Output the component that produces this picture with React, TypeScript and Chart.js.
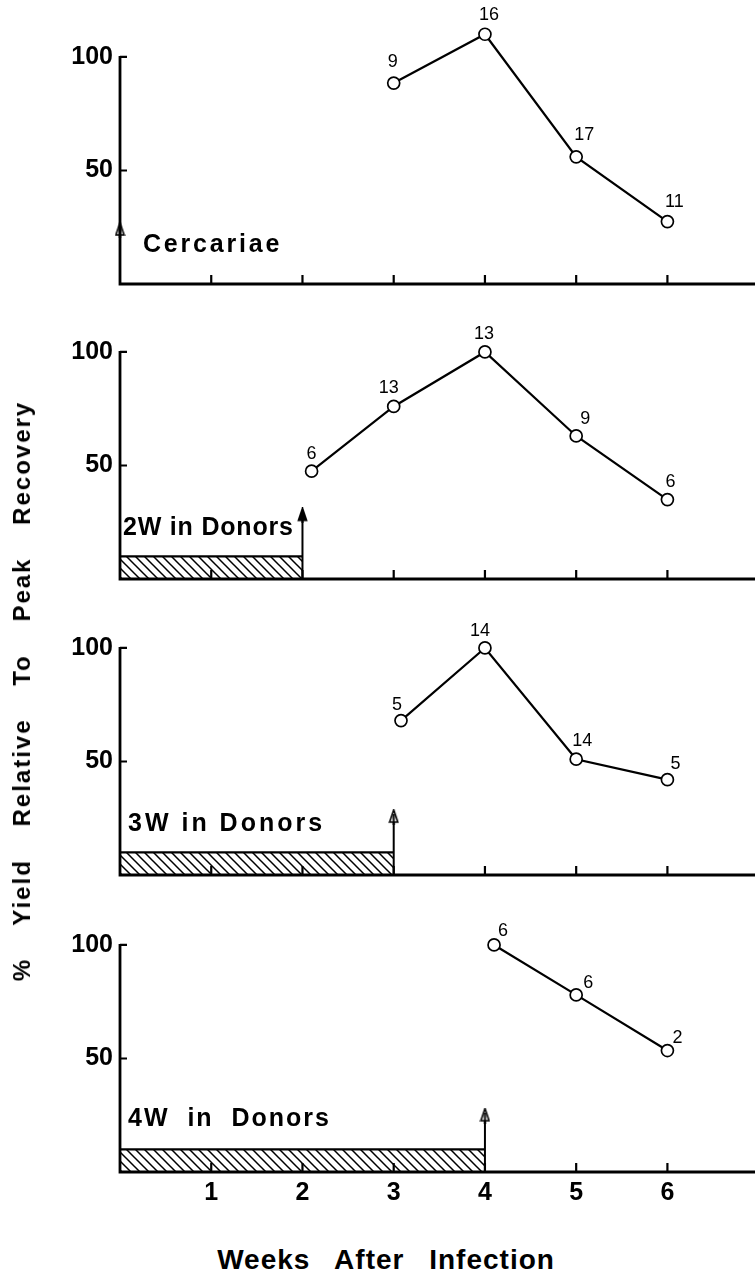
import React, { useEffect, useRef } from "react";
import { Chart, registerables } from "chart.js";

Chart.register(...registerables);

const FONT = "'Liberation Sans', Arial, Helvetica, sans-serif";

// Cercariae used directly
const cercariaeWeeks = [3, 4, 5, 6];
const cercariaeYield = [88.5, 110, 56, 27.5];
const cercariaeN = [9, 16, 17, 11];

// Worms kept 2 weeks in donors
const donors2Weeks = [2.1, 3, 4, 5, 6];
const donors2Yield = [47.5, 76, 100, 63, 35];
const donors2N = [6, 13, 13, 9, 6];

// Worms kept 3 weeks in donors
const donors3Weeks = [3.08, 4, 5, 6];
const donors3Yield = [68, 100, 51, 42];
const donors3N = [5, 14, 14, 5];

// Worms kept 4 weeks in donors
const donors4Weeks = [4.1, 5, 6];
const donors4Yield = [100, 78, 53.5];
const donors4N = [6, 6, 2];

const panelCaptions = ["Cercariae", "2W in Donors", "3W in Donors", "4W  in  Donors"];
const weeksInDonors = [0, 2, 3, 4];
const arrowTops = [23.8, 28, 25.5, 24.8];
const donorBarLevel = 10;

const yTickValues = [50, 100];
const weekTicks = [1, 2, 3, 4, 5, 6];
const weekAxisMax = 6.96;
const yAxisMax = 122;

type PanelSpec = {
  weeks: number[];
  yields: number[];
  n: number[];
  caption: string;
  donor: number;
  arrowTop: number;
  hollowHead: boolean;
  labelDx: number[];
  labelDy: number[];
  captionDx: number;
  captionY: number;
  captionSpacing: number;
};

const panels: PanelSpec[] = [
  {
    weeks: cercariaeWeeks, yields: cercariaeYield, n: cercariaeN,
    caption: panelCaptions[0], donor: weeksInDonors[0], arrowTop: arrowTops[0], hollowHead: true,
    labelDx: [-1, 4, 8, 7], labelDy: [-21, -19, -22, -20],
    captionDx: 23, captionY: 17.2, captionSpacing: 2.8,
  },
  {
    weeks: donors2Weeks, yields: donors2Yield, n: donors2N,
    caption: panelCaptions[1], donor: weeksInDonors[1], arrowTop: arrowTops[1], hollowHead: false,
    labelDx: [0, -5, -1, 9, 3], labelDy: [-17, -18, -18, -17, -18],
    captionDx: 3, captionY: 22.5, captionSpacing: 0.8,
  },
  {
    weeks: donors3Weeks, yields: donors3Yield, n: donors3N,
    caption: panelCaptions[2], donor: weeksInDonors[2], arrowTop: arrowTops[2], hollowHead: true,
    labelDx: [-4, -5, 6, 8], labelDy: [-16, -17, -18, -16],
    captionDx: 8, captionY: 22.5, captionSpacing: 3,
  },
  {
    weeks: donors4Weeks, yields: donors4Yield, n: donors4N,
    caption: panelCaptions[3], donor: weeksInDonors[3], arrowTop: arrowTops[3], hollowHead: true,
    labelDx: [9, 12, 10], labelDy: [-14, -12, -12],
    captionDx: 8, captionY: 23.3, captionSpacing: 2,
  },
];

const panelTops = [0, 295, 591, 888];

function hatchPattern(ctx: CanvasRenderingContext2D) {
  const s = 9;
  const c = document.createElement("canvas");
  c.width = s;
  c.height = s;
  const g = c.getContext("2d")!;
  g.strokeStyle = "#000";
  g.lineWidth = 1.5;
  g.beginPath();
  g.moveTo(-1, -1);
  g.lineTo(s + 1, s + 1);
  g.moveTo(s - 1, -1);
  g.lineTo(s + 1, 1);
  g.moveTo(-1, s - 1);
  g.lineTo(1, s + 1);
  g.stroke();
  return ctx.createPattern(c, "repeat");
}

function arrowHead(hollow: boolean) {
  const c = document.createElement("canvas");
  c.width = 11;
  c.height = 16;
  const g = c.getContext("2d")!;
  g.beginPath();
  g.moveTo(5.5, 0.8);
  g.lineTo(9.6, 13);
  g.lineTo(1.4, 13);
  g.closePath();
  g.fillStyle = hollow ? "#fff" : "#000";
  g.fill();
  g.strokeStyle = "#000";
  g.lineWidth = 1.6;
  g.stroke();
  g.beginPath();
  g.moveTo(5.5, hollow ? 5 : 10);
  g.lineTo(5.5, 16);
  g.lineWidth = 2;
  g.stroke();
  return c;
}

function Panel({ spec, top, last }: { spec: PanelSpec; top: number; last: boolean }) {
  const ref = useRef<HTMLCanvasElement>(null);
  const axisH = last ? 44 : 10;
  const height = 284 + axisH;

  useEffect(() => {
    const canvas = ref.current!;
    const ctx = canvas.getContext("2d")!;

    const datasets: any[] = [
      {
        data: spec.weeks.map((w, i) => ({ x: w, y: spec.yields[i] })),
        borderColor: "#000",
        borderWidth: 2.2,
        pointRadius: 6,
        pointHoverRadius: 6,
        pointBackgroundColor: "#fff",
        pointBorderColor: "#000",
        pointBorderWidth: 1.7,
        clip: false,
        order: 0,
      },
    ];
    if (spec.donor > 0) {
      datasets.push({
        data: [
          { x: 0, y: donorBarLevel },
          { x: spec.donor, y: donorBarLevel },
        ],
        fill: "origin",
        backgroundColor: hatchPattern(ctx),
        borderColor: "#000",
        borderWidth: 2.2,
        pointRadius: 0,
        clip: false,
        order: 2,
      });
    }
    datasets.push({
      data: [
        { x: spec.donor, y: 0 },
        { x: spec.donor, y: spec.arrowTop },
      ],
      borderColor: "#000",
      borderWidth: 2,
      pointRadius: [0, 8],
      pointStyle: arrowHead(spec.hollowHead),
      clip: false,
      order: 1,
    });

    const decorations = {
      id: "panelDecorations",
      afterDatasetsDraw(chart: any) {
        const c = chart.ctx as CanvasRenderingContext2D;
        const xs = chart.scales.x;
        const ys = chart.scales.y;
        const x0 = xs.getPixelForValue(0);
        const y0 = ys.getPixelForValue(0);
        const y100 = ys.getPixelForValue(100);
        c.save();
        c.strokeStyle = "#000";
        c.lineCap = "butt";
        // axes
        c.lineWidth = 2.8;
        c.beginPath();
        c.moveTo(x0, y0 + 1.4);
        c.lineTo(x0, y100 - 1);
        c.moveTo(x0 - 1.4, y0);
        c.lineTo(chart.chartArea.right, y0);
        c.stroke();
        // inward tick marks
        c.lineWidth = 2.2;
        c.beginPath();
        yTickValues.forEach((v) => {
          const y = ys.getPixelForValue(v);
          c.moveTo(x0, y);
          c.lineTo(x0 + 7, y);
        });
        weekTicks.forEach((w) => {
          const x = xs.getPixelForValue(w);
          c.moveTo(x, y0);
          c.lineTo(x, y0 - 9);
        });
        c.stroke();

        // sample sizes above each point
        const meta = chart.getDatasetMeta(0);
        c.fillStyle = "#000";
        c.font = `18px ${FONT}`;
        c.textAlign = "center";
        c.textBaseline = "middle";
        meta.data.forEach((pt: any, i: number) => {
          c.fillText(String(spec.n[i]), pt.x + spec.labelDx[i], pt.y + spec.labelDy[i]);
        });

        // panel caption
        c.font = `bold 25px ${FONT}`;
        (c as any).letterSpacing = `${spec.captionSpacing}px`;
        c.textAlign = "left";
        c.fillText(spec.caption, x0 + spec.captionDx, ys.getPixelForValue(spec.captionY));
        c.restore();
      },
    };

    const chart = new Chart(canvas, {
      type: "line",
      data: { datasets },
      options: {
        responsive: false,
        maintainAspectRatio: false,
        animation: false,
        events: [],
        layout: { autoPadding: false, padding: { top: 7, left: 0, right: 0, bottom: 0 } },
        plugins: { legend: { display: false }, tooltip: { enabled: false } },
        scales: {
          x: {
            type: "linear",
            min: 0,
            max: weekAxisMax,
            grid: { display: false, drawTicks: false },
            border: { display: false },
            ticks: {
              display: last,
              autoSkip: false,
              maxRotation: 0,
              padding: 6,
              color: "#000",
              font: { family: FONT, size: 25, weight: "bold" },
              callback: (v: any) => String(v),
            },
            afterBuildTicks: (s: any) => {
              s.ticks = weekTicks.map((v) => ({ value: v }));
            },
            afterFit: (s: any) => {
              s.height = axisH;
              s.paddingLeft = 0;
              s.paddingRight = 0;
            },
          },
          y: {
            type: "linear",
            min: 0,
            max: yAxisMax,
            grid: { display: false, drawTicks: false },
            border: { display: false },
            ticks: {
              padding: 7,
              color: "#000",
              font: { family: FONT, size: 25, weight: "bold" },
              callback: (v: any) => String(v),
            },
            afterBuildTicks: (s: any) => {
              s.ticks = yTickValues.map((v) => ({ value: v }));
            },
            afterFit: (s: any) => {
              s.width = 120;
              s.paddingTop = 0;
              s.paddingBottom = 0;
            },
          },
        },
      } as any,
      plugins: [decorations],
    });
    return () => chart.destroy();
  }, []);

  return (
    <canvas
      ref={ref}
      width={755}
      height={height}
      style={{ position: "absolute", left: 0, top, width: 755, height, display: "block" }}
    />
  );
}

export default function App() {
  return (
    <div
      style={{
        position: "absolute",
        left: 0,
        top: 0,
        width: 755,
        height: 1270,
        background: "#fff",
        overflow: "hidden",
        fontFamily: FONT,
        color: "#000",
      }}
    >
      {panels.map((p, i) => (
        <Panel key={i} spec={p} top={panelTops[i]} last={i === panels.length - 1} />
      ))}
      <div
        style={{
          position: "absolute",
          left: 22,
          top: 691,
          transform: "translate(-50%, -50%) rotate(-90deg)",
          whiteSpace: "nowrap",
          fontWeight: "bold",
          fontSize: 24,
          letterSpacing: "2px",
          wordSpacing: "24px",
          lineHeight: 1,
        }}
      >
        % Yield Relative To Peak Recovery
      </div>
      <div
        style={{
          position: "absolute",
          left: 386,
          top: 1260,
          transform: "translate(-50%, -50%)",
          whiteSpace: "nowrap",
          fontWeight: "bold",
          fontSize: 28,
          letterSpacing: "1px",
          wordSpacing: "16px",
          lineHeight: 1,
        }}
      >
        Weeks After Infection
      </div>
    </div>
  );
}
